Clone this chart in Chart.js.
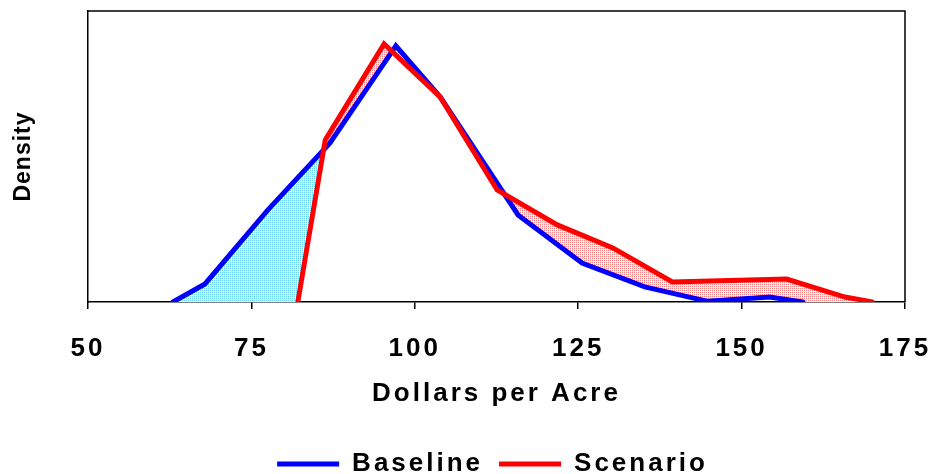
<!DOCTYPE html>
<html>
<head>
<meta charset="utf-8">
<script src="https://cdn.jsdelivr.net/npm/chart.js@4.4.1/dist/chart.umd.min.js"></script>
<style>
  html, body { margin: 0; padding: 0; background: #fff; }
  #wrap { width: 935px; height: 474px; }
</style>
</head>
<body>
<div id="wrap"><canvas id="c" width="935" height="474"></canvas></div>
<script>
// ---- data ----
const seriesNames = ['Baseline', 'Scenario'];
const baselineX = [63.0, 67.9, 77.5, 87.0, 97.1, 103.9, 115.8, 125.6, 135.2, 144.7, 154.3, 159.4];
const baselineY = [0, 6.2, 31.6, 54.6, 88.0, 70.4, 29.9, 13.4, 5.2, 0.3, 1.7, 0];
const scenarioX = [82.1, 86.3, 95.3, 103.9, 112.6, 121.8, 130.3, 139.4, 156.9, 165.8, 170.0];
const scenarioY = [0, 55.7, 88.7, 70.4, 38.5, 26.5, 18.6, 6.9, 7.9, 1.7, 0];
const xTicks = [50, 75, 100, 125, 150, 175];
const xTitle = 'Dollars per Acre';
const yTitle = 'Density';

const toPts = (xs, ys) => xs.map((x, i) => ({x: x, y: ys[i]}));
const basePts = toPts(baselineX, baselineY);
const scenPts = toPts(scenarioX, scenarioY);
// density is zero outside each series' support: used only for the shaded difference
const baseFill = basePts.concat([{x: scenarioX[scenarioX.length - 1], y: 0}]);
const scenFill = [{x: baselineX[0], y: 0}].concat(scenPts);

function dotPattern(dot) {
  const c = document.createElement('canvas');
  c.width = 2; c.height = 2;
  const g = c.getContext('2d');
  g.fillStyle = '#ffffff'; g.fillRect(0, 0, 2, 2);
  g.fillStyle = dot; g.fillRect(0, 0, 1, 1);
  return document.getElementById('c').getContext('2d').createPattern(c, 'repeat');
}
const cyanDots = dotPattern('#5cd3f7');
const redDots = dotPattern('#ff7a7a');

const FONT = "'Liberation Sans', Arial, sans-serif";
const LEGEND_SHIFT = 40;

const spacingPlugin = {
  id: 'spacing',
  beforeLayout(chart) { chart.ctx.letterSpacing = '3px'; },
  afterLayout(chart) {
    const lg = chart.legend;
    if (lg) { lg.left += LEGEND_SHIFT; lg.right += LEGEND_SHIFT; }
  },
  beforeDraw(chart) {
    chart.ctx.letterSpacing = '3px';
    const y = chart.scales.y;
    if (y && !y._patched) {
      const orig = y.drawTitle.bind(y);
      y.drawTitle = function () {
        const c = this.ctx; const p = c.letterSpacing;
        c.letterSpacing = '1px'; orig(); c.letterSpacing = p;
      };
      y._patched = true;
    }
  },
  afterDraw(chart) {
    const a = chart.chartArea, c = chart.ctx;
    c.save();
    c.strokeStyle = '#000'; c.lineWidth = 1.5;
    c.beginPath();
    c.moveTo(a.left, a.top); c.lineTo(a.right, a.top); c.lineTo(a.right, a.bottom);
    c.stroke();
    c.restore();
  }
};

new Chart(document.getElementById('c'), {
  type: 'line',
  data: {
    datasets: [
      { label: seriesNames[0], data: basePts, borderColor: '#0000ff', backgroundColor: '#0000ff',
        borderWidth: 5, borderCapStyle: 'round', borderJoinStyle: 'miter', pointRadius: 0, fill: false, order: 1, tension: 0 },
      { label: seriesNames[1], data: scenPts, borderColor: '#ff0000', backgroundColor: '#ff0000',
        borderWidth: 5, borderCapStyle: 'round', borderJoinStyle: 'miter', pointRadius: 0, fill: false, order: 0, tension: 0 },
      { label: 'fillA', data: baseFill, borderColor: 'rgba(0,0,0,0)', borderWidth: 1, pointRadius: 0,
        fill: { target: 3, above: cyanDots, below: redDots }, order: 2, tension: 0 },
      { label: 'fillB', data: scenFill, borderColor: 'rgba(0,0,0,0)', borderWidth: 1, pointRadius: 0,
        fill: false, order: 3, tension: 0 }
    ]
  },
  options: {
    responsive: false,
    animation: false,
    events: [],
    layout: { padding: { top: 11, right: 30, left: 0, bottom: -13 } },
    plugins: {
      legend: {
        position: 'bottom',
        labels: {
          filter: (item) => item.datasetIndex < 2,
          sort: (a, b) => a.datasetIndex - b.datasetIndex,
          usePointStyle: true,
          pointStyle: 'line',
          pointStyleWidth: 62,
          boxHeight: 5,
          padding: 16,
          color: '#000',
          font: { family: FONT, size: 26, weight: 'bold' }
        }
      },
      tooltip: { enabled: false }
    },
    scales: {
      x: {
        type: 'linear', min: 50, max: 175,
        afterBuildTicks: (s) => { s.ticks = xTicks.map(v => ({value: v})); },
        afterFit: (s) => { s.height = 133; s.paddingLeft = 0; s.paddingRight = 0; },
        ticks: { color: '#000', padding: 24, maxRotation: 0, font: { family: FONT, size: 26, weight: 'bold' } },
        grid: { display: true, drawOnChartArea: false, drawTicks: true, tickLength: 7, color: '#000', lineWidth: 1.5 },
        border: { display: true, color: '#000', width: 1.5 },
        title: { display: true, text: xTitle, color: '#000', padding: { top: 0, bottom: 26 },
                 font: { family: FONT, size: 26, weight: 'bold' } }
      },
      y: {
        type: 'linear', min: 0, max: 100,
        afterFit: (s) => { s.width = 88; },
        ticks: { display: false },
        grid: { display: false },
        border: { display: true, color: '#000', width: 1.5 },
        title: { display: true, text: yTitle, color: '#000', padding: { top: 10, bottom: 0 },
                 font: { family: FONT, size: 23, weight: 'bold' } }
      }
    }
  },
  plugins: [spacingPlugin]
});
</script>
</body>
</html>
